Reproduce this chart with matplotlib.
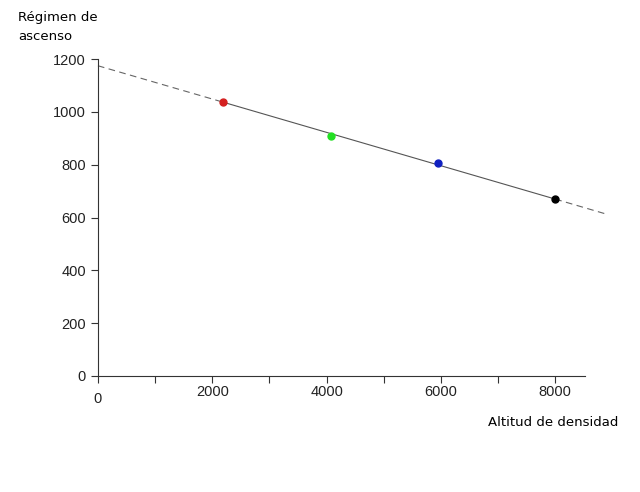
import matplotlib.pyplot as plt
from matplotlib.ticker import MultipleLocator

# datos
altitud = [2190, 4080, 5955, 8000]
regimen = [1037, 909, 806, 670]
colores = ['#d42020', '#22e022', '#1020c0', '#000000']

# recta de ajuste (extremos de la línea)
linea_x = [0, 2190, 8000, 8880]
linea_y = [1175, 1037, 670, 614]

fig = plt.figure(figsize=(6.4, 4.92), dpi=100)
ax = fig.add_axes([0.153, 0.2358, 0.761, 0.644])

ax.plot(linea_x[:2], linea_y[:2], color='#666666', lw=0.8, ls=(0, (6, 4)), clip_on=False)
ax.plot(linea_x[1:3], linea_y[1:3], color='#555555', lw=0.8, clip_on=False)
ax.plot(linea_x[2:], linea_y[2:], color='#666666', lw=0.8, ls=(0, (6, 4)), clip_on=False)
for x, y, c in zip(altitud, regimen, colores):
    ax.plot(x, y, 'o', color=c, ms=5, zorder=3, clip_on=False)

ax.set_xlim(0, 8520)
ax.set_ylim(0, 1200)
ax.xaxis.set_major_locator(MultipleLocator(1000))
ax.yaxis.set_major_locator(MultipleLocator(200))
ax.set_xticklabels([])
for v in [2000, 4000, 6000, 8000]:
    ax.text(v, -35, str(v), ha='center', va='top', fontsize=10.5,
            family='Liberation Sans', color='#222222')
ax.text(0, -62, '0', ha='center', va='top', fontsize=10.5,
        family='Liberation Sans', color='#222222')
ax.tick_params(axis='both', direction='out', length=5, width=0.8, color='#333333')
ax.tick_params(axis='y', labelsize=10.5, labelcolor='#222222')
for lab in ax.get_yticklabels():
    lab.set_family('Liberation Sans')

ax.spines['top'].set_visible(False)
ax.spines['right'].set_visible(False)
ax.spines['left'].set_color('#333333')
ax.spines['bottom'].set_color('#333333')

fig.text(18 / 640, 1 - 11 / 492, 'Régimen de\nascenso', ha='left', va='top',
         fontsize=9.5, linespacing=1.65)
fig.text(618 / 640, 1 - 423 / 492, 'Altitud de densidad', ha='right', va='center',
         fontsize=9.5)

fig.savefig('out.png', dpi=100)
